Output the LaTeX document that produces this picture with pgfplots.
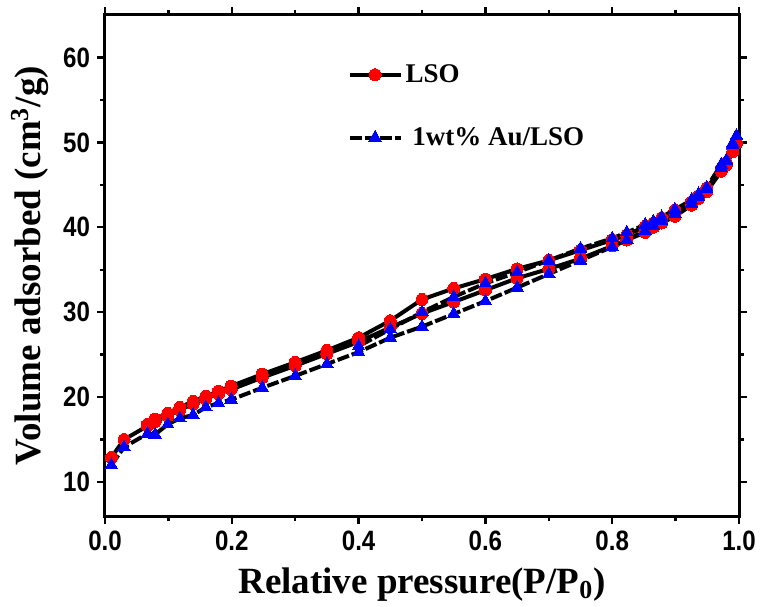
\documentclass[border=0pt]{standalone}
\usepackage{fontspec}
\setmainfont{Liberation Serif}
\setsansfont{Liberation Sans}
\newfontfamily\tickfont{Liberation Sans}[FakeStretch=0.86]
\usepackage{pgfplots}
\pgfplotsset{compat=1.18}

\begin{document}
\begin{tikzpicture}
\path[use as bounding box] (-52.5pt,-45pt) rectangle (328pt,258pt);
\begin{axis}[
  at={(0,0)}, anchor=south west,
  width=317pt, height=250.5pt, scale only axis,
  xmin=0, xmax=1, ymin=6, ymax=65,
  xtick={0,0.2,0.4,0.6,0.8,1.0}, minor x tick num=1,
  ytick={10,20,30,40,50,60}, minor y tick num=1,
  tick align=outside, major tick length=4pt, minor tick length=2.5pt,
  every tick/.style={black, line width=1.2pt},
  axis line style={line width=1.5pt},
  /pgf/number format/assume math mode=true,
  xticklabel style={font=\tickfont\bfseries\fontsize{14}{14}\selectfont,
    /pgf/number format/.cd, fixed, fixed zerofill, precision=1},
  yticklabel style={font=\tickfont\bfseries\fontsize{14}{14}\selectfont},
  label style={font=\bfseries\fontsize{18.5}{20}\selectfont},
  xlabel={Relative pressure(P/P\textsubscript{0})},
  ylabel={Volume adsorbed (cm\textsuperscript{3}/g)},
  xlabel style={at={(axis description cs:0.5,0)}, anchor=base, yshift=-38.5pt},
  ylabel style={at={(axis description cs:0,0.5)}, anchor=base, xshift=0pt, yshift=32pt},
  legend style={at={(axis cs:0.382,59.6)}, anchor=north west, draw=none, fill=none,
    font=\bfseries\fontsize{13.5}{14}\selectfont, row sep=18pt, inner sep=0pt,
    nodes={inner sep=1.5pt}},
  legend cell align=left,
  legend image code/.code={
    \draw[#1,mark repeat=2,mark phase=2] plot coordinates {(0pt,0pt) (12.75pt,0pt) (25.5pt,0pt)};
  },
]
\addplot[black, line width=2pt, mark=*, mark size=3pt, mark options={draw=red, fill=red, solid, line width=0pt}] coordinates {
(0.01,12.9)(0.03,15.0)(0.067,16.6)(0.079,17.1)(0.099,17.8)(0.118,18.5)(0.139,19.2)(0.159,19.8)(0.179,20.4)(0.199,20.9)(0.248,22.3)(0.30,23.7)(0.35,25.1)(0.40,26.5)(0.45,28.2)(0.50,29.85)(0.55,31.2)(0.60,32.6)(0.65,34.0)(0.70,35.1)(0.75,36.3)(0.80,37.8)(0.823,38.5)(0.852,39.4)(0.865,40.0)(0.878,40.5)(0.899,41.3)(0.925,42.6)(0.936,43.4)(0.949,44.2)(0.972,46.6)(0.98,47.3)(0.99,48.9)(0.996,49.9)
(0.99,49.3)(0.98,47.6)(0.972,46.9)(0.949,44.6)(0.936,43.7)(0.925,43.0)(0.899,42.0)(0.878,41.1)(0.865,40.5)(0.852,40.1)(0.823,39.1)(0.80,38.5)(0.75,37.3)(0.70,36.1)(0.65,35.1)(0.60,33.9)(0.55,32.8)(0.50,31.5)(0.45,29.0)(0.40,27.0)(0.35,25.5)(0.30,24.1)(0.248,22.7)(0.199,21.3)(0.179,20.7)(0.159,20.1)(0.139,19.5)(0.118,18.8)(0.099,18.1)(0.079,17.4)(0.067,16.8)
};
\addlegendentry{LSO}
\addplot[black, line width=2pt, dash pattern=on 6pt off 1.5pt, mark=triangle*, mark size=3.6pt, mark options={draw=blue, fill=blue, solid, line width=0pt}] coordinates {
(0.01,12.0)(0.03,14.1)(0.067,15.7)(0.079,15.6)(0.099,16.8)(0.118,17.5)(0.139,17.9)(0.159,18.8)(0.179,19.3)(0.199,19.7)(0.248,21.1)(0.30,22.5)(0.35,23.9)(0.40,25.3)(0.45,27.0)(0.50,28.3)(0.55,29.8)(0.60,31.3)(0.65,32.9)(0.70,34.5)(0.75,36.1)(0.80,37.7)(0.823,38.5)(0.852,39.6)(0.865,40.2)(0.878,40.8)(0.899,41.6)(0.925,42.8)(0.936,43.6)(0.949,44.5)(0.972,47.0)(0.98,47.8)(0.99,49.7)(0.996,50.8)
(0.99,49.9)(0.98,47.9)(0.972,47.4)(0.949,44.7)(0.936,43.9)(0.925,43.2)(0.899,42.1)(0.878,41.2)(0.865,40.7)(0.852,40.3)(0.823,39.4)(0.80,38.7)(0.75,37.5)(0.70,36.1)(0.65,34.7)(0.60,33.4)(0.55,31.8)(0.50,30.0)(0.45,28.0)(0.40,26.0)
};
\addlegendentry{\ 1wt\% Au/LSO}
\end{axis}
\end{tikzpicture}
\end{document}
